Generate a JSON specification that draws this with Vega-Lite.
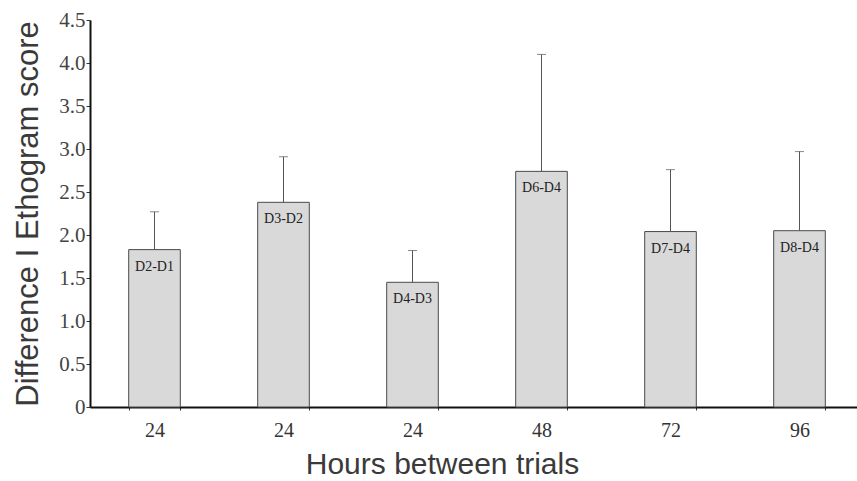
{
  "$schema": "https://vega.github.io/schema/vega-lite/v6.json",
  "autosize": "none",
  "padding": {"left": 90, "top": 20, "right": 0, "bottom": 74},
  "width": 774,
  "height": 387,
  "background": "white",
  "config": {"view": {"stroke": null}},
  "data": {
    "values": [
      {"pair": "D2-D1", "hours": "24", "score": 1.83, "upper": 2.27},
      {"pair": "D3-D2", "hours": "24", "score": 2.38, "upper": 2.91},
      {"pair": "D4-D3", "hours": "24", "score": 1.45, "upper": 1.82},
      {"pair": "D6-D4", "hours": "48", "score": 2.74, "upper": 4.10},
      {"pair": "D7-D4", "hours": "72", "score": 2.04, "upper": 2.76},
      {"pair": "D8-D4", "hours": "96", "score": 2.05, "upper": 2.97}
    ]
  },
  "encoding": {
    "x": {
      "field": "pair",
      "type": "nominal",
      "sort": null,
      "scale": {"paddingInner": 0.6, "paddingOuter": 0.3},
      "axis": {
        "title": "Hours between trials",
        "titleFont": "Liberation Sans",
        "titleFontSize": 30,
        "titleFontWeight": "normal",
        "titleColor": "#3a3a3a",
        "titlePadding": 9,
        "titleX": 352,
        "labelFont": "Liberation Serif",
        "labelFontSize": 20,
        "labelColor": "#333333",
        "labelAngle": 0,
        "labelPadding": 10,
        "labelExpr": "datum.label == 'D6-D4' ? '48' : datum.label == 'D7-D4' ? '72' : datum.label == 'D8-D4' ? '96' : (datum.label == 'D2-D1' || datum.label == 'D3-D2' || datum.label == 'D4-D3') ? '24' : ''",
        "tickBand": "extent",
        "tickSize": 3,
        "tickColor": "#333333",
        "domainColor": "#111111",
        "domainWidth": 2
      }
    }
  },
  "layer": [
    {
      "mark": {"type": "bar", "fill": "#d9d9d9", "stroke": "#4a4a4a", "strokeWidth": 1},
      "encoding": {
        "y": {
          "field": "score",
          "type": "quantitative",
          "scale": {"domain": [0, 4.5], "nice": false},
          "axis": {
            "title": "Difference I Ethogram score",
            "titleFont": "Liberation Sans",
            "titleFontSize": 31,
            "titleFontWeight": "normal",
            "titleColor": "#3a3a3a",
            "titlePadding": 14,
            "values": [0, 0.5, 1, 1.5, 2, 2.5, 3, 3.5, 4, 4.5],
            "labelExpr": "datum.value == 0 ? '0' : format(datum.value, '.1f')",
            "labelFont": "Liberation Serif",
            "labelFontSize": 21,
            "labelColor": "#444444",
            "labelPadding": 1,
            "tickSize": 4,
            "tickColor": "#333333",
            "domainColor": "#111111",
            "domainWidth": 2,
            "grid": false
          }
        }
      }
    },
    {
      "mark": {"type": "rule", "color": "#555555", "strokeWidth": 1},
      "encoding": {
        "y": {"field": "score", "type": "quantitative"},
        "y2": {"field": "upper"}
      }
    },
    {
      "mark": {"type": "tick", "color": "#555555", "thickness": 1, "size": 9, "orient": "horizontal"},
      "encoding": {
        "y": {"field": "upper", "type": "quantitative"}
      }
    },
    {
      "mark": {"type": "text", "font": "Liberation Serif", "fontSize": 14, "color": "#222222", "baseline": "middle", "dy": 17},
      "encoding": {
        "y": {"field": "score", "type": "quantitative"},
        "text": {"field": "pair"}
      }
    }
  ]
}
